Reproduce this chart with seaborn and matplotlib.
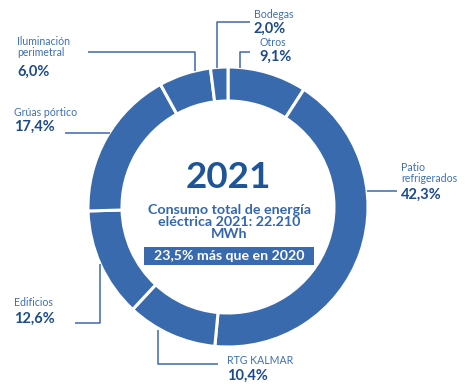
import matplotlib
matplotlib.use("Agg")
import matplotlib.pyplot as plt
import seaborn as sns

# Electricity consumption shares 2021, clockwise from 12 o'clock
categories = ["Otros", "Patio\nrefrigerados", "RTG KALMAR", "Edificios",
              "Grúas pórtico", "Iluminación\nperimetral", "Bodegas"]
shares = [9.1, 42.3, 10.4, 12.6, 17.4, 6.0, 2.0]
share_labels = ["9,1%", "42,3%", "10,4%", "12,6%", "17,4%", "6,0%", "2,0%"]

year_title = "2021"
center_lines = "Consumo total de energía\neléctrica 2021: 22.210\nMWh"
badge_text = "23,5% más que en 2020"

sns.set_theme(style="white")
plt.rcParams["font.family"] = ["Lato", "DejaVu Sans"]

RING = "#3a6aae"
NAME = "#3f6fb6"
PCT = "#1d4b8c"
TITLE = "#1f5598"

W, H = 470, 385
fig = plt.figure(figsize=(W / 100, H / 100), dpi=100)
ax = fig.add_axes([0, 0, 1, 1])

def Y(y):
    # pixel row (from top) -> axis y
    return H - y

cx, cy, r_out, width = 228, 207, 140, 34
palette = sns.color_palette([RING] * len(shares))
ax.pie(shares, colors=palette, startangle=90, counterclock=False,
       center=(cx, Y(cy)), radius=r_out,
       wedgeprops=dict(width=width, edgecolor="white", linewidth=2.2))
ax.set_xlim(0, W)
ax.set_ylim(0, H)
ax.set_aspect("equal")
ax.axis("off")

# leader lines (pixel coordinates, y from top)
leaders = {
    "Otros": [(240, 68), (240, 52), (250, 52)],
    "Patio\nrefrigerados": [(367, 191), (397, 191)],
    "RTG KALMAR": [(158, 330), (158, 364), (218, 364)],
    "Edificios": [(100, 264), (100, 323), (75, 323)],
    "Grúas pórtico": [(110, 133), (65, 133)],
    "Iluminación\nperimetral": [(195, 71), (195, 52), (88, 52)],
    "Bodegas": [(217, 68), (217, 22), (250, 22)],
}
for pts in leaders.values():
    ax.plot([p[0] for p in pts], [Y(p[1]) for p in pts],
            color=RING, lw=1.1, solid_capstyle="butt")

# label positions: (x, name y, pct y)
label_pos = {
    "Otros": (259, 43, 57),
    "Patio\nrefrigerados": (401, 173, 195),
    "RTG KALMAR": (227, 360, 376),
    "Edificios": (14, 302, 319),
    "Grúas pórtico": (14, 112, 127),
    "Iluminación\nperimetral": (17, 47, 72),
    "Bodegas": (254, 15, 29),
}
for name, pct in zip(categories, share_labels):
    x, yn, yp = label_pos[name]
    ax.text(x, Y(yn), name, color=NAME, fontsize=7.6, ha="left", va="center",
            linespacing=0.95)
    ax.text(x, Y(yp), pct, color=PCT, fontsize=10.5, fontweight="bold",
            ha="left", va="center")

# center block
ax.text(cx, Y(178), year_title, color=TITLE, fontsize=26.5, fontweight="bold",
        ha="center", va="center")
ax.text(cx + 1, Y(222), center_lines, color="#3466ad", fontsize=10.3,
        fontweight="bold", ha="center", va="center", linespacing=1.0)
ax.add_patch(plt.Rectangle((144, Y(265)), 170, 18, color=RING, lw=0))
ax.text(229, Y(256), badge_text, color="white", fontsize=10.2,
        fontweight="bold", ha="center", va="center")

fig.savefig("out.png", dpi=100)
